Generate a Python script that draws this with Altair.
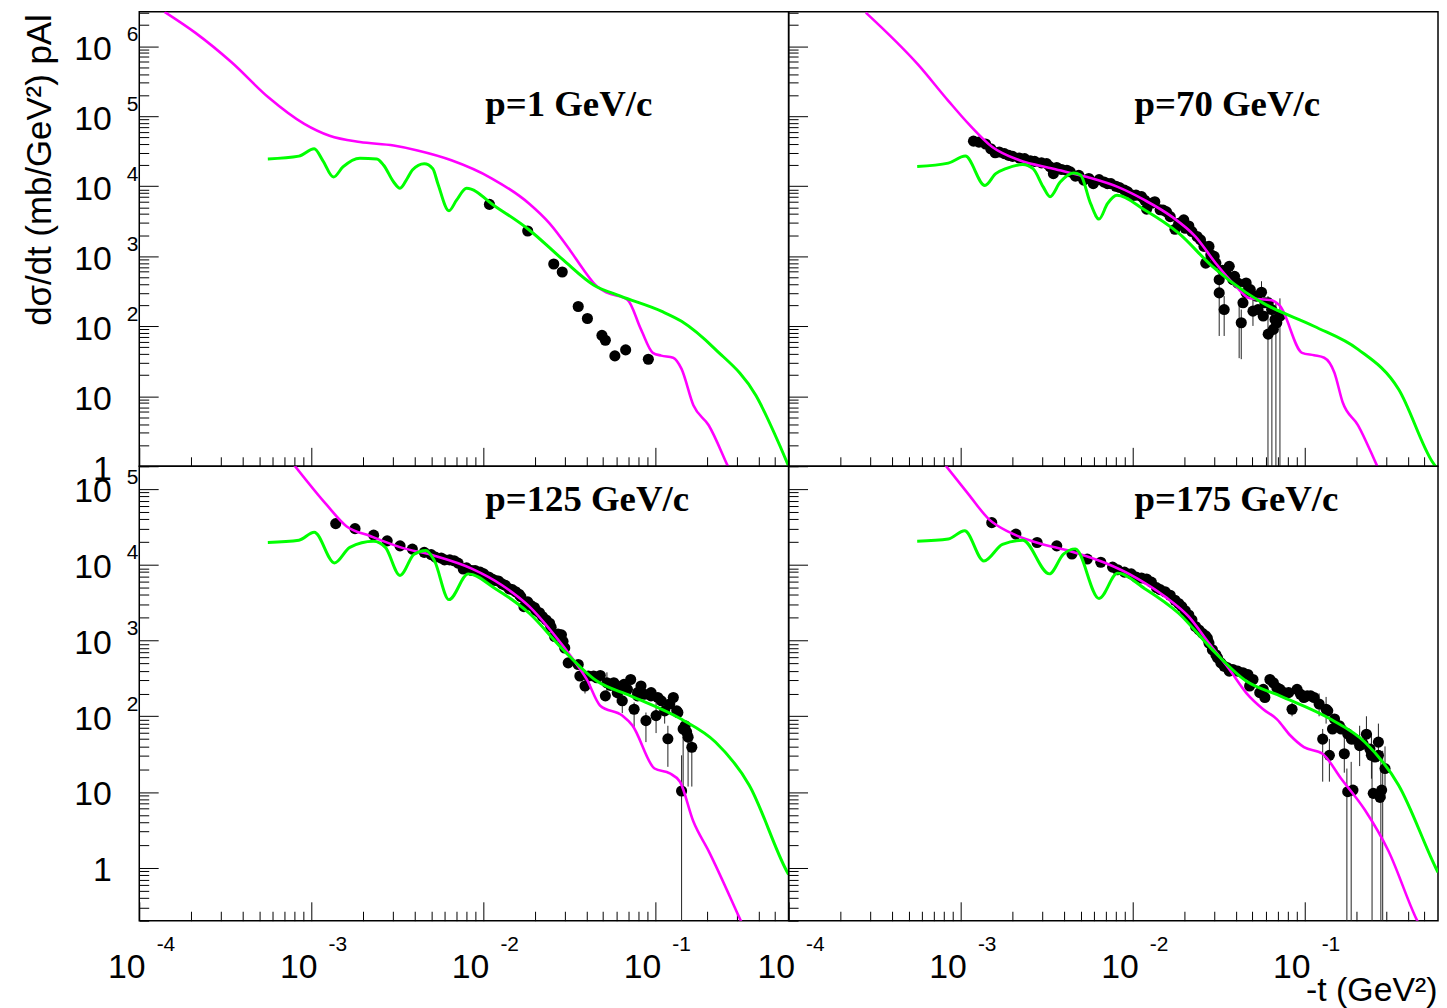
import altair as alt
import pandas as pd

FONT = "Liberation Sans"
SERIF = "Liberation Serif"
W, H = 653, 457

X_DOMAIN = [1e-4, 0.6]
Y_DOMAIN_TOP = [1.0, 3.1e6]
Y_DOMAIN_BOT = [0.2, 2.0e5]

# axis tick values
X_MAJOR = [1e-4, 1e-3, 1e-2, 1e-1]
X_MINOR = [m * 10.0 ** e for e in range(-4, 0) for m in range(2, 10) if m * 10.0 ** e <= 0.6]
Y_TOP_MAJOR = [1.0, 1e1, 1e2, 1e3, 1e4, 1e5, 1e6]
Y_TOP_MINOR = [m * 10.0 ** e for e in range(0, 7) for m in range(2, 10) if m * 10.0 ** e <= 3.1e6]
Y_TOP_EXP = [1e2, 1e3, 1e4, 1e5, 1e6]
Y_BOT_MAJOR = [1.0, 1e1, 1e2, 1e3, 1e4, 1e5]
Y_BOT_MINOR = [m * 10.0 ** e for e in range(-1, 6) for m in range(2, 10) if 0.2 <= m * 10.0 ** e <= 2e5]
Y_BOT_EXP = [1e2, 1e3, 1e4, 1e5]

# ---------------- p = 1 GeV/c (top left) ----------------
tl_dot_t = [0.0109, 0.0182, 0.0258, 0.0289, 0.0358, 0.0405, 0.0492, 0.0515, 0.0585, 0.0676, 0.0916]
tl_dot_y = [5500, 2290, 773, 594, 191, 129, 74, 63, 37.7, 45.9, 33.8]
tl_bar_t, tl_bar_lo, tl_bar_hi = [], [], []
# curves: log10(-t), log10(dsigma/dt)
tl_mag_lgt = [-3.853, -3.673, -3.463, -3.249, -3.04, -2.893, -2.716, -2.520, -2.381, -2.184, -1.948, -1.731,
              -1.613, -1.495, -1.416, -1.338, -1.279, -1.160, -1.081, -1.012, -0.963, -0.894, -0.845, -0.776,
              -0.687, -0.579, -0.553]
tl_mag_lgy = [6.49, 6.19, 5.77, 5.27, 4.89, 4.72, 4.63, 4.58, 4.51, 4.37, 4.11, 3.75,
              3.47, 3.09, 2.81, 2.57, 2.48, 2.38, 1.955, 1.62, 1.58, 1.55, 1.39, 0.87,
              0.585, 0.02, -0.12]
tl_grn_lgt = [-3.252, -3.071, -2.982, -2.933, -2.870, -2.815, -2.716, -2.618, -2.578, -2.520, -2.483, -2.441,
              -2.411, -2.342, -2.292, -2.263, -2.198, -2.154, -2.096, -1.928, -1.731, -1.535, -1.357, -1.200,
              -0.963, -0.845, -0.648, -0.412, -0.274, -0.222]
tl_grn_lgy = [4.39, 4.43, 4.535, 4.37, 4.13, 4.275, 4.40, 4.39, 4.30, 4.06, 3.97, 4.11,
              4.23, 4.32, 4.25, 4.04, 3.65, 3.80, 3.97, 3.71, 3.375, 2.95, 2.59, 2.43,
              2.215, 2.07, 1.67, 1.01, 0.30, 0.0]

# ---------------- p = 70 GeV/c (top right) ----------------
tr_dot_t = [1.19e-3, 1.40e-3, 1.59e-3, 1.91e-3, 2.20e-3, 2.55e-3, 2.96e-3, 3.17e-3, 3.47e-3, 3.88e-3,
            4.35e-3, 4.66e-3, 5.21e-3, 5.92e-3, 6.40e-3, 7.16e-3, 8.02e-3, 8.99e-3, 1.01e-2, 1.13e-2,
            1.21e-2, 1.35e-2, 1.45e-2, 1.58e-2, 1.77e-2, 1.99e-2, 2.13e-2, 2.38e-2, 2.67e-2, 2.79e-2,
            2.99e-2, 3.20e-2, 3.35e-2, 3.20e-2, 3.42e-2, 3.66e-2, 3.93e-2, 4.30e-2, 4.40e-2, 4.59e-2,
            4.85e-2, 5.03e-2, 5.64e-2, 5.77e-2, 6.17e-2, 6.61e-2, 6.92e-2, 7.23e-2, 6.17e-2, 5.38e-2,
            1.28e-3, 1.50e-3, 1.68e-3, 1.80e-3, 2.01e-3, 2.36e-3, 2.70e-3, 3.32e-3, 3.63e-3, 4.16e-3,
            4.88e-3, 5.58e-3, 6.85e-3, 7.50e-3, 8.40e-3, 9.40e-3, 1.05e-2, 1.18e-2, 1.29e-2, 1.51e-2,
            1.66e-2, 1.86e-2, 2.03e-2, 2.22e-2, 2.49e-2, 2.61e-2, 2.86e-2, 3.06e-2, 3.50e-2, 3.84e-2,
            4.10e-2, 4.59e-2, 5.26e-2, 5.90e-2, 6.46e-2, 6.76e-2]
tr_dot_y = [4.4e4, 4.0e4, 3.0e4, 2.76e4, 2.53e4, 2.30e4, 2.15e4, 2.10e4, 1.51e4, 1.73e4,
            1.60e4, 1.39e4, 1.22e4, 1.09e4, 1.24e4, 1.09e4, 1.0e4, 8.8e3, 7.4e3, 7.1e3,
            4.7e3, 6.0e3, 4.6e3, 4.3e3, 2.43e3, 3.3e3, 2.7e3, 1.91e3, 798, 1380,
            993, 462, 628, 299, 173, 716, 516, 112, 216, 415,
            333, 164, 306, 140, 77, 90, 112, 140, 216, 173,
            4.27e4, 3.43e4, 3.08e4, 2.92e4, 2.67e4, 2.48e4, 2.26e4, 1.89e4, 1.85e4, 1.69e4,
            1.43e4, 1.29e4, 1.15e4, 1.09e4, 9.6e3, 8.3e3, 7.45e3, 6.3e3, 5.7e3, 4.56e3,
            3.67e3, 2.95e3, 2.51e3, 2.25e3, 1.71e3, 1.38e3, 1.05e3, 798, 575, 462,
            415, 299, 269, 216, 173, 125]
tr_bar_t = [0.0320, 0.0342, 0.0430, 0.0418, 0.0503, 0.0564, 0.0615, 0.0648, 0.0684, 0.0722]
tr_bar_lo = [72.6, 72.6, 33.8, 35, 101, 140, 0.5, 0.5, 0.5, 0.5]
tr_bar_hi = [462, 269, 173, 214, 269, 439, 269, 200, 220, 250]
tr_mag_lgt = [-3.551, -3.248, -3.071, -2.953, -2.815, -2.657, -2.460, -2.263, -2.086, -1.928, -1.771, -1.633,
              -1.515, -1.397, -1.318, -1.190, -1.141, -1.013, -0.943, -0.884, -0.825, -0.776, -0.687, -0.579,
              -0.553]
tr_mag_lgy = [6.48, 5.74, 5.22, 4.89, 4.56, 4.37, 4.25, 4.13, 3.99, 3.80, 3.565, 3.28,
              2.90, 2.57, 2.40, 2.37, 2.29, 1.62, 1.585, 1.55, 1.34, 0.91, 0.585, 0.02,
              -0.12]
tr_grn_lgt = [-3.252, -3.071, -2.972, -2.858, -2.795, -2.736, -2.638, -2.578, -2.519, -2.479, -2.420, -2.342,
              -2.302, -2.243, -2.194, -2.145, -2.090, -1.928, -1.731, -1.535, -1.338, -1.239, -0.943, -0.687,
              -0.451, -0.254, -0.222]
tr_grn_lgy = [4.28, 4.33, 4.43, 4.01, 4.18, 4.25, 4.31, 4.25, 3.99, 3.85, 4.06, 4.19,
              4.16, 3.75, 3.53, 3.75, 3.87, 3.66, 3.33, 2.855, 2.48, 2.33, 2.00, 1.67,
              1.10, 0.06, -0.05]

# ---------------- p = 125 GeV/c (bottom left) ----------------
bl_dot_t = [1.39e-3, 1.80e-3, 2.31e-3, 2.77e-3, 3.29e-3, 3.88e-3, 4.55e-3, 5.28e-3, 5.97e-3, 6.79e-3,
            7.67e-3, 8.59e-3, 9.62e-3, 1.08e-2, 1.18e-2, 1.29e-2, 1.42e-2, 1.55e-2, 1.66e-2, 1.73e-2,
            1.90e-2, 2.03e-2, 2.22e-2, 2.44e-2, 2.61e-2, 2.86e-2, 2.99e-2, 3.13e-2, 3.58e-2, 3.66e-2,
            3.92e-2, 4.40e-2, 4.81e-2, 5.26e-2, 5.15e-2, 5.77e-2, 6.46e-2, 6.61e-2, 7.23e-2, 7.57e-2,
            8.30e-2, 8.87e-2, 9.50e-2, 0.1016, 0.109, 0.119, 0.128, 0.136, 0.143, 0.146,
            0.156, 0.164, 0.114, 6.04e-2, 7.93e-2,
            4.99e-3, 5.71e-3, 6.40e-3, 7.16e-3, 8.02e-3, 8.99e-3, 1.01e-2, 1.13e-2, 1.23e-2, 1.35e-2,
            1.48e-2, 1.62e-2, 1.82e-2, 1.99e-2, 2.13e-2, 2.33e-2, 2.49e-2, 2.73e-2, 2.92e-2,
            4.10e-2, 4.59e-2, 5.51e-2, 6.17e-2, 6.92e-2, 7.93e-2, 8.69e-2, 9.51e-2, 0.104, 0.122,
            0.134, 0.150, 0.153]
bl_dot_y = [3.5e4, 3.0e4, 2.46e4, 2.07e4, 1.78e4, 1.61e4, 1.46e4, 1.26e4, 1.16e4, 1.13e4,
            8.8e3, 8.4e3, 8.0e3, 6.9e3, 6.2e3, 5.6e3, 4.8e3, 4.4e3, 3.8e3, 2.8e3,
            2.9e3, 2.5e3, 2.07e3, 1.69e3, 1.13e3, 1.19e3, 796, 507, 482, 340,
            251, 340, 346, 277, 186, 277, 160, 264, 306, 124,
            251, 87.5, 186, 102, 160, 50.4, 177, 112, 10.3, 68,
            53, 39, 118, 205, 186,
            1.36e4, 1.23e4, 1.16e4, 1.05e4, 9.1e3, 8.4e3, 7.6e3, 6.5e3, 6.1e3, 5.35e3,
            4.7e3, 4.08e3, 3.24e3, 2.73e3, 2.33e3, 1.87e3, 1.50e3, 1.22e3, 973,
            340, 322, 256, 246, 227, 205, 195, 205, 177, 145,
            118, 75, 62]
bl_bar_t = [0.0887, 0.0757, 0.1016, 0.114, 0.119, 0.143, 0.146, 0.156, 0.164, 0.0526, 0.0604, 0.0646, 0.0392]
bl_bar_lo = [45.6, 68, 60, 80, 21.5, 0.1, 11.8, 11.8, 11.8, 200, 150, 110, 200]
bl_bar_hi = [112, 152, 150, 170, 75, 30.5, 90, 75, 60, 380, 260, 230, 320]
bl_mag_lgt = [-3.100, -2.913, -2.795, -2.657, -2.479, -2.283, -2.066, -1.889, -1.731, -1.594, -1.475, -1.397,
              -1.318, -1.190, -1.131, -1.002, -0.913, -0.854, -0.776, -0.687, -0.510, -0.49]
bl_mag_lgy = [5.32, 4.80, 4.51, 4.38, 4.23, 4.12, 3.95, 3.73, 3.45, 3.10, 2.75, 2.49,
              2.14, 2.01, 1.88, 1.31, 1.245, 1.135, 0.61, 0.22, -0.65, -0.75]
bl_grn_lgt = [-3.252, -3.071, -2.982, -2.864, -2.775, -2.637, -2.568, -2.483, -2.401, -2.332, -2.283, -2.198,
              -2.086, -1.928, -1.731, -1.535, -1.338, -1.141, -0.845, -0.648, -0.451, -0.234, -0.222]
bl_grn_lgy = [4.295, 4.325, 4.43, 4.025, 4.23, 4.31, 4.23, 3.86, 4.14, 4.19, 4.055, 3.54,
              3.88, 3.685, 3.36, 2.88, 2.465, 2.27, 1.96, 1.66, 1.09, -0.04, -0.09]

# ---------------- p = 175 GeV/c (bottom right) ----------------
br_dot_t = [1.52e-3, 2.10e-3, 2.79e-3, 3.63e-3, 4.45e-3, 5.46e-3, 6.55e-3, 7.67e-3, 8.99e-3, 1.05e-2,
            1.21e-2, 1.38e-2, 1.55e-2, 1.77e-2, 1.94e-2, 2.13e-2, 2.33e-2, 2.55e-2, 2.73e-2, 2.92e-2,
            3.13e-2, 3.42e-2, 3.66e-2, 4.10e-2, 4.70e-2, 4.81e-2, 5.51e-2, 5.90e-2, 6.31e-2, 6.92e-2,
            7.59e-2, 8.49e-2, 9.08e-2, 9.95e-2, 0.109, 0.122, 0.134, 0.128, 0.140, 0.146,
            0.160, 0.171, 0.179, 0.192, 0.188, 0.210, 0.230, 0.246, 0.252, 0.270,
            0.282, 0.295, 0.276, 0.258,
            8.20e-3, 9.84e-3, 1.13e-2, 1.29e-2, 1.45e-2, 1.66e-2, 1.86e-2, 2.03e-2, 2.22e-2, 2.44e-2,
            2.67e-2, 2.79e-2, 3.06e-2, 3.27e-2, 3.58e-2, 3.84e-2, 4.40e-2, 5.03e-2, 5.77e-2, 6.61e-2,
            7.23e-2, 8.11e-2, 9.51e-2, 0.104, 0.114, 0.137, 0.150, 0.164, 0.179, 0.196,
            0.220, 0.241, 0.270]
br_dot_y = [3.6e4, 2.54e4, 1.97e4, 1.78e4, 1.39e4, 1.19e4, 1.08e4, 9.3e3, 8.0e3, 6.9e3,
            6.5e3, 5.0e3, 4.4e3, 3.4e3, 2.8e3, 2.17e3, 1.53e3, 1.25e3, 1.07e3, 755,
            589, 458, 394, 394, 356, 251, 205, 177, 306, 239,
            205, 124, 227, 177, 186, 145, 124, 50, 30.5, 68,
            75, 32, 10.1, 10.6, 50, 41, 58, 30.5, 9.6, 45.6,
            10.6, 20.4, 8.5, 29,
            8.6e3, 7.6e3, 6.7e3, 5.9e3, 4.7e3, 3.96e3, 3.08e3, 2.47e3, 1.87e3, 1.38e3,
            1.15e3, 925, 650, 507, 436, 414, 375, 306, 227, 277,
            227, 205, 195, 186, 177, 118, 92, 68, 58.5, 50,
            43, 37, 30.5]
br_bar_t = [0.177, 0.1875, 0.248, 0.279, 0.286, 0.128, 0.140, 0.171, 0.210, 0.230, 0.246, 0.270, 0.295,
            0.122, 0.134, 0.0849]
br_bar_lo = [0.1, 0.1, 0.1, 0.1, 0.1, 13.7, 13.7, 18, 22, 30, 15, 25, 8, 100, 80, 100]
br_bar_hi = [20.4, 25, 40, 30, 35, 68, 50, 55, 75, 100, 60, 80, 40, 200, 180, 150]
br_mag_lgt = [-3.090, -2.953, -2.834, -2.716, -2.558, -2.361, -2.164, -1.968, -1.810, -1.672, -1.554, -1.436,
              -1.338, -1.239, -1.160, -1.081, -1.002, -0.894, -0.786, -0.648, -0.510, -0.353, -0.33]
br_mag_lgy = [5.32, 4.93, 4.60, 4.43, 4.295, 4.18, 4.03, 3.815, 3.58, 3.315, 2.965, 2.62,
              2.31, 2.094, 1.963, 1.746, 1.593, 1.506, 1.179, 0.766, 0.221, -0.65, -0.76]
br_grn_lgt = [-3.252, -3.071, -2.976, -2.864, -2.756, -2.638, -2.483, -2.401, -2.332, -2.194, -2.086, -1.928,
              -1.731, -1.535, -1.338, -1.141, -0.845, -0.648, -0.451, -0.235, -0.222]
br_grn_lgy = [4.31, 4.34, 4.45, 4.05, 4.27, 4.325, 3.88, 4.14, 4.21, 3.555, 3.89, 3.685,
              3.36, 2.88, 2.465, 2.27, 1.96, 1.66, 1.09, 0.0, -0.06]

LABEL_T = 0.0103


def curve(lgt, lgy):
    return pd.DataFrame({"t": [10.0 ** v for v in lgt], "y": [10.0 ** v for v in lgy]})


def tick_axis(orient, values, size):
    return alt.Axis(orient=orient, values=values, tickSize=size, offset=-size, labels=False,
                    domain=False, grid=False, ticks=True, tickColor="black", tickWidth=1, title=None)


def x_base_axis(title=None):
    kw = dict(orient="bottom", values=X_MAJOR, ticks=False, tickSize=0, domain=False, grid=False,
              labelExpr="'10'", labelFont=FONT, labelFontSize=34, labelColor="black",
              labelAlign="center", labelBaseline="alphabetic", labelPadding=57, labelOffset=-13,
              labelFlush=False, labelOverlap=False, labelBound=False)
    if title:
        kw.update(title=title, titleX=652, titleY=80, titleAlign="right", titleBaseline="alphabetic",
                  titleAngle=0, titleFont=FONT, titleFontSize=34, titleFontWeight="normal",
                  titleColor="black", titleAnchor="end")
    else:
        kw.update(title=None)
    return alt.Axis(**kw)


def x_exp_axis():
    return alt.Axis(orient="bottom", values=X_MAJOR, ticks=False, tickSize=0, domain=False, grid=False,
                    labelExpr="'' + round(log(datum.value) / LN10)", labelFont=FONT, labelFontSize=21,
                    labelColor="black", labelAlign="left", labelBaseline="alphabetic", labelPadding=30,
                    labelOffset=17, labelFlush=False, labelOverlap=False, labelBound=False, title=None)


def y_base_axis(values, title=None):
    kw = dict(orient="left", values=values, ticks=False, tickSize=0, domain=False, grid=False,
              labelExpr="datum.value < 5 ? '1' : '10'", labelFont=FONT, labelFontSize=34,
              labelColor="black", labelAlign="right", labelBaseline="alphabetic", labelPadding=28,
              labelOffset=13, labelFlush=False, labelOverlap=False, labelBound=False)
    if title:
        kw.update(title=title, titleX=-89, titleY=2, titleAlign="right", titleBaseline="alphabetic",
                  titleAngle=270, titleFont=FONT, titleFontSize=35, titleFontWeight="normal",
                  titleColor="black")
    else:
        kw.update(title=None)
    return alt.Axis(**kw)


def y_exp_axis(values):
    return alt.Axis(orient="left", values=values, ticks=False, tickSize=0, domain=False, grid=False,
                    labelExpr="'' + round(log(datum.value) / LN10)", labelFont=FONT, labelFontSize=21,
                    labelColor="black", labelAlign="right", labelBaseline="alphabetic", labelPadding=1.5,
                    labelOffset=-6, labelFlush=False, labelOverlap=False, labelBound=False, title=None)


def panel(dot_t, dot_y, bar_t, bar_lo, bar_hi, mag, grn, label, label_y, ydom, ymaj, ymin, yexp,
          x_labels, y_labels, x_title=None, y_title=None):
    xs = alt.Scale(type="log", domain=X_DOMAIN, nice=False)
    ys = alt.Scale(type="log", domain=ydom, nice=False)
    layers = []
    if bar_t:
        bars = pd.DataFrame({"t": bar_t, "lo": bar_lo, "hi": bar_hi})
        layers.append(alt.Chart(bars).mark_rule(color="#222222", strokeWidth=1, clip=True).encode(
            x=alt.X("t:Q", scale=xs, axis=None),
            y=alt.Y("lo:Q", scale=ys, axis=None),
            y2=alt.Y2("hi:Q")))
    dots = pd.DataFrame({"t": dot_t, "y": dot_y})
    layers.append(alt.Chart(dots).mark_circle(size=125, color="black", opacity=1, clip=True).encode(
        x=alt.X("t:Q", scale=xs, axis=tick_axis("bottom", X_MAJOR, 19)),
        y=alt.Y("y:Q", scale=ys, axis=tick_axis("left", ymaj, 19))))
    layers.append(alt.Chart(mag).mark_line(color="#ff00ff", strokeWidth=2.6, interpolate="monotone",
                                           clip=True).encode(
        x=alt.X("t:Q", scale=xs, axis=tick_axis("bottom", X_MINOR, 9.5)),
        y=alt.Y("y:Q", scale=ys, axis=tick_axis("left", ymin, 9.5))))
    layers.append(alt.Chart(grn).mark_line(color="#00ff00", strokeWidth=3, interpolate="monotone",
                                           clip=True).encode(
        x=alt.X("t:Q", scale=xs, axis=x_base_axis(x_title) if x_labels else None),
        y=alt.Y("y:Q", scale=ys, axis=y_base_axis(ymaj, y_title) if y_labels else None)))
    lab = pd.DataFrame({"t": [LABEL_T], "y": [label_y], "label": [label]})
    layers.append(alt.Chart(lab).mark_text(align="left", baseline="alphabetic", font=SERIF,
                                           fontWeight="bold", fontSize=37, color="black").encode(
        x=alt.X("t:Q", scale=xs, axis=x_exp_axis() if x_labels else None),
        y=alt.Y("y:Q", scale=ys, axis=y_exp_axis(yexp) if y_labels else None),
        text="label:N"))
    return alt.layer(*layers).resolve_axis(x="independent", y="independent").properties(width=W, height=H)


tl = panel(tl_dot_t, tl_dot_y, tl_bar_t, tl_bar_lo, tl_bar_hi, curve(tl_mag_lgt, tl_mag_lgy),
           curve(tl_grn_lgt, tl_grn_lgy), "p=1 GeV/c", 1.0e5, Y_DOMAIN_TOP, Y_TOP_MAJOR, Y_TOP_MINOR,
           Y_TOP_EXP, False, True, y_title="dσ/dt (mb/GeV²) pAl")
tr = panel(tr_dot_t, tr_dot_y, tr_bar_t, tr_bar_lo, tr_bar_hi, curve(tr_mag_lgt, tr_mag_lgy),
           curve(tr_grn_lgt, tr_grn_lgy), "p=70 GeV/c", 1.0e5, Y_DOMAIN_TOP, Y_TOP_MAJOR, Y_TOP_MINOR,
           Y_TOP_EXP, False, False)
bl = panel(bl_dot_t, bl_dot_y, bl_bar_t, bl_bar_lo, bl_bar_hi, curve(bl_mag_lgt, bl_mag_lgy),
           curve(bl_grn_lgt, bl_grn_lgy), "p=125 GeV/c", 5.2e4, Y_DOMAIN_BOT, Y_BOT_MAJOR, Y_BOT_MINOR,
           Y_BOT_EXP, True, True)
br = panel(br_dot_t, br_dot_y, br_bar_t, br_bar_lo, br_bar_hi, curve(br_mag_lgt, br_mag_lgy),
           curve(br_grn_lgt, br_grn_lgy), "p=175 GeV/c", 5.2e4, Y_DOMAIN_BOT, Y_BOT_MAJOR, Y_BOT_MINOR,
           Y_BOT_EXP, True, False, x_title="-t (GeV²)")

chart = alt.concat(tl, tr, bl, br, columns=2, spacing=0, bounds="flush").properties(
    padding={"left": 14, "top": 0, "right": 0, "bottom": 0},
    background="white",
).configure_view(stroke="black", strokeWidth=1.5)

chart.save("out.html", embed_options={"renderer": "svg", "actions": False})
